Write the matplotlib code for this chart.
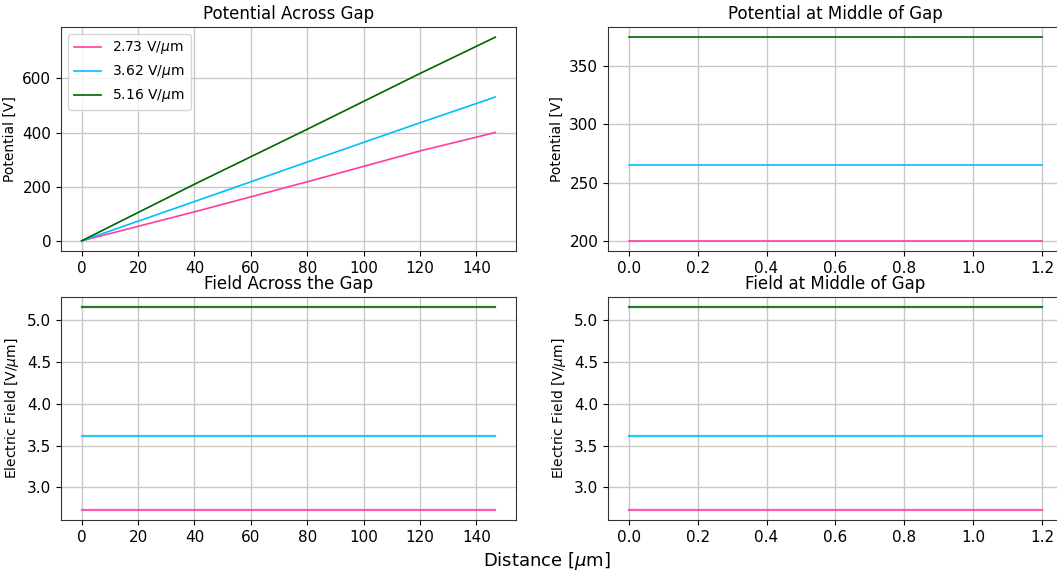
import numpy as np
from matplotlib import pyplot as plt

# field labels and colours
labels = ['2.73 V/$\\mu$m', '3.62 V/$\\mu$m', '5.16 V/$\\mu$m']
colors = ['#ff3d9e', '#00bfff', '#006400']

# potential across the gap
x_gap = [0, 40, 80, 120, 146.7]
pot_gap = [
    [0, 107, 218, 332, 400],
    [0, 145, 291, 436, 531],
    [0, 209, 412, 618, 752],
]

# potential at the middle of the gap
x_mid = [0, 1.2]
pot_mid = [200, 265, 375]

# electric field values
field = [2.73, 3.62, 5.16]
x_field = [0, 146.7]

W, H = 1057, 574
fig = plt.figure(figsize=(W / 100, H / 100), dpi=100)

def box(l, r, t, b):
    return [l / W, (H - b) / H, (r - l) / W, (b - t) / H]

ax1 = fig.add_axes(box(61, 516, 27, 251))
ax2 = fig.add_axes(box(608, 1063, 27, 251))
ax3 = fig.add_axes(box(61, 516, 297, 520))
ax4 = fig.add_axes(box(608, 1063, 297, 520))

for i in range(3):
    ax1.plot(x_gap, pot_gap[i], color=colors[i], lw=1.2, label=labels[i])
    ax2.plot(x_mid, [pot_mid[i]] * 2, color=colors[i], lw=1.2)
    ax3.plot(x_field, [field[i]] * 2, color=colors[i], lw=1.6, alpha=0.85)
    ax4.plot(x_mid, [field[i]] * 2, color=colors[i], lw=1.6, alpha=0.85)

ax1.set_title('Potential Across Gap', fontsize=12)
ax2.set_title('Potential at Middle of Gap', fontsize=12)
ax3.set_title('Field Across the Gap', fontsize=12)
ax4.set_title('Field at Middle of Gap', fontsize=12)

ax1.set_ylabel('Potential [V]', fontsize=10)
ax2.set_ylabel('Potential [V]', fontsize=10)
ax3.set_ylabel('Electric Field [V/$\\mu$m]', fontsize=10)
ax4.set_ylabel('Electric Field [V/$\\mu$m]', fontsize=10)

ax1.set_yticks([0, 200, 400, 600])
ax2.set_yticks([200, 250, 300, 350])
for ax in (ax3, ax4):
    ax.set_yticks([3.0, 3.5, 4.0, 4.5, 5.0])
for ax in (ax1, ax3):
    ax.set_xticks(range(0, 141, 20))
for ax in (ax2, ax4):
    ax.set_xticks([0.0, 0.2, 0.4, 0.6, 0.8, 1.0, 1.2])

for ax in (ax1, ax2, ax3, ax4):
    ax.grid(True, color='#c8c8c8', lw=1)
    ax.tick_params(labelsize=11)
    for s in ax.spines.values():
        s.set_color('#333333')

ax1.legend(loc='upper left', fontsize=10)
fig.text(547 / W, 1 - 561 / H, 'Distance [$\\mu$m]', ha='center', va='center', fontsize=13)

fig.savefig('out.png', dpi=100)
